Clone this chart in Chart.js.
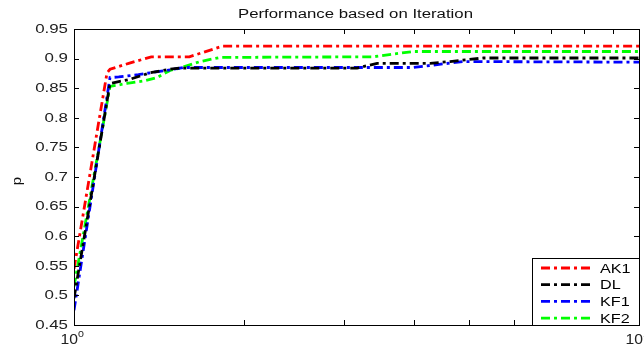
<!DOCTYPE html>
<html><head><meta charset="utf-8">
<script src="https://cdn.jsdelivr.net/npm/chart.js@4/dist/chart.umd.min.js"></script>
<style>html,body{margin:0;padding:0;background:#fff}#w{width:644px;height:349px}</style>
</head><body><div id="w"><canvas id="c"></canvas></div>
<script>
const titleText = 'Performance based on Iteration';
const yTitle = 'p';
const seriesNames = ['AK1', 'DL', 'KF1', 'KF2'];
const seriesColors = ['#ff0000', '#000000', '#0000ff', '#00ff00'];
const yTicks = [0.45, 0.5, 0.55, 0.6, 0.65, 0.7, 0.75, 0.8, 0.85, 0.9, 0.95];
const yTickLabels = ['0.45', '0.5', '0.55', '0.6', '0.65', '0.7', '0.75', '0.8', '0.85', '0.9', '0.95'];
const xMajorTicks = [1, 10];
const xMajorBase = ['10', '10'];
const xMajorExp = ['0', '1'];
const xMinorTicks = [2, 3, 4, 5, 6, 7, 8, 9];

const ak1X = [1, 1.144, 1.158, 1.25, 1.37, 1.6, 1.83, 10];
const ak1Y = [0.545, 0.876, 0.882, 0.892, 0.903, 0.903, 0.921, 0.921];
const dlX = [1, 1.158, 1.256, 1.363, 1.479, 1.54, 3.17, 3.44, 4.27, 4.63, 5.3, 10];
const dlY = [0.495, 0.858, 0.865, 0.876, 0.882, 0.884, 0.884, 0.892, 0.892, 0.895, 0.901, 0.901];
const kf1X = [1, 1.158, 1.2, 1.3, 1.479, 1.56, 3.98, 4.88, 10];
const kf1Y = [0.475, 0.868, 0.869, 0.873, 0.881, 0.885, 0.885, 0.895, 0.894];
const kf2X = [1, 1.158, 1.241, 1.325, 1.403, 1.479, 1.54, 1.671, 1.813, 3.38, 3.98, 10];
const kf2Y = [0.515, 0.853, 0.858, 0.862, 0.868, 0.88, 0.884, 0.895, 0.902, 0.903, 0.912, 0.912];

const xs = [ak1X, dlX, kf1X, kf2X];
const ys = [ak1Y, dlY, kf1Y, kf2Y];
const DASH = [9, 4, 3, 4];

const datasets = seriesNames.map((n, i) => ({
  label: n,
  data: xs[i].map((x, j) => ({x: x, y: ys[i][j]})),
  borderColor: seriesColors[i],
  backgroundColor: seriesColors[i],
  borderWidth: 2.8,
  borderDash: DASH,
  pointRadius: 0,
  tension: 0,
  fill: false
}));

const FONT = '"Liberation Sans", Arial, sans-serif';
const SX = 1.25;

function txt(ctx, s, x, y, size, align, sx, color) {
  ctx.save();
  ctx.font = size + 'px ' + FONT;
  ctx.fillStyle = color || '#222';
  ctx.textBaseline = 'middle';
  const w = ctx.measureText(s).width * sx;
  let x0 = x;
  if (align === 'right') x0 = x - w;
  else if (align === 'center') x0 = x - w / 2;
  ctx.translate(x0, y);
  ctx.scale(sx, 1);
  ctx.textAlign = 'left';
  ctx.fillText(s, 0, 0);
  ctx.restore();
  return w;
}

const decor = {
  id: 'decor',
  afterDraw(chart) {
    const ctx = chart.ctx;
    const a = chart.chartArea;
    const xs_ = chart.scales.x, ys_ = chart.scales.y;
    ctx.save();
    ctx.strokeStyle = '#000'; ctx.lineWidth = 1;
    ctx.strokeRect(Math.round(a.left) + 0.5, Math.round(a.top) + 0.5, Math.round(a.right - a.left), Math.round(a.bottom - a.top));
    ctx.beginPath();
    const tl = 5;
    yTicks.forEach(v => {
      const y = Math.round(ys_.getPixelForValue(v)) + 0.5;
      ctx.moveTo(a.left, y); ctx.lineTo(a.left + tl, y);
      ctx.moveTo(a.right, y); ctx.lineTo(a.right - tl, y);
    });
    xMinorTicks.concat(xMajorTicks).forEach(v => {
      const x = Math.round(xs_.getPixelForValue(v)) + 0.5;
      ctx.moveTo(x, a.top); ctx.lineTo(x, a.top + tl);
      ctx.moveTo(x, a.bottom); ctx.lineTo(x, a.bottom - tl);
    });
    ctx.stroke();
    // y tick labels
    yTicks.forEach((v, i) => {
      txt(ctx, yTickLabels[i], 68, ys_.getPixelForValue(v), 13.5, 'right', SX);
    });
    // x tick labels
    xMajorTicks.forEach((v, i) => {
      const px = xs_.getPixelForValue(v);
      txt(ctx, xMajorBase[i], px + 4, 340, 14, 'right', 1.12);
      txt(ctx, xMajorExp[i], px + 4, 334, 9.5, 'left', 1.12);
    });
    // title
    ctx.font = '12.5px ' + FONT;
    const tw = ctx.measureText(titleText).width;
    txt(ctx, titleText, 355.5, 15, 12.5, 'center', 235 / tw, '#111');
    // y title
    ctx.save();
    ctx.translate(17, 181);
    ctx.rotate(-Math.PI / 2);
    txt(ctx, yTitle, 0, 0, 13.5, 'center', 1.1, '#111');
    ctx.restore();
    // legend
    const lx = 532, ly = 258, lw = Math.round(a.right) - lx, lh = Math.round(a.bottom) - ly;
    ctx.fillStyle = '#fff';
    ctx.fillRect(lx, ly, lw, lh);
    ctx.strokeStyle = '#000'; ctx.lineWidth = 1;
    ctx.strokeRect(lx + 0.5, ly + 0.5, lw, lh);
    chart.data.datasets.forEach((ds, i) => {
      const yy = 268 + i * 16.7;
      ctx.strokeStyle = ds.borderColor; ctx.lineWidth = 2.8;
      ctx.setLineDash(DASH);
      ctx.beginPath(); ctx.moveTo(541, yy); ctx.lineTo(593, yy); ctx.stroke();
      ctx.setLineDash([]);
      txt(ctx, ds.label, 600, yy + 1, 13.5, 'left', 1.2, '#000');
    });
    ctx.restore();
  }
};

new Chart(document.getElementById('c'), {
  type: 'line',
  data: {datasets},
  options: {
    responsive: true, maintainAspectRatio: false, animation: false,
    layout: {padding: {top: 29, right: 5, left: 0, bottom: 0}},
    plugins: {legend: {display: false}, title: {display: false}, tooltip: {enabled: false}},
    scales: {
      x: {
        type: 'logarithmic', min: 1, max: 10,
        grid: {display: false, drawTicks: false},
        border: {display: false},
        ticks: {display: false},
        afterFit: s => { s.height = 24; }
      },
      y: {
        min: 0.45, max: 0.95,
        grid: {display: false, drawTicks: false},
        border: {display: false},
        ticks: {display: false},
        afterFit: s => { s.width = 74; }
      }
    }
  },
  plugins: [decor]
});
</script>
</body></html>
